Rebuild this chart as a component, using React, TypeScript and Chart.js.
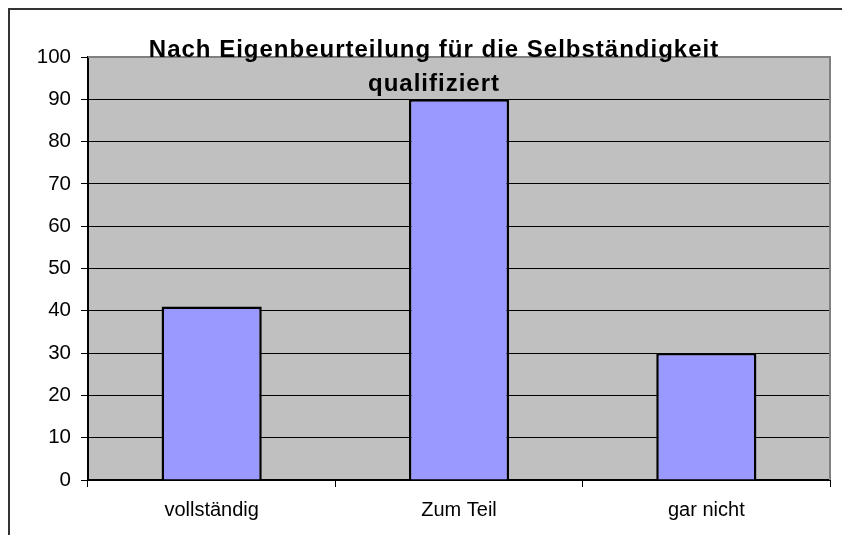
import React, { useEffect, useRef } from "react";
import { Chart, registerables } from "chart.js";

Chart.register(...registerables);

const categories = ["vollständig", "Zum Teil", "gar nicht"];
const values = [41, 90, 30];
const titleLines = ["Nach Eigenbeurteilung für die Selbständigkeit", "qualifiziert"];
const yMin = 0;
const yMax = 100;
const yStep = 10;

const FONT = '"Liberation Sans", Arial, sans-serif';

const plotDecor = {
  id: "plotDecor",
  beforeDraw(chart: any) {
    const { ctx, chartArea: a } = chart;
    ctx.save();
    ctx.fillStyle = "#C0C0C0";
    ctx.fillRect(a.left, a.top, a.right - a.left, a.bottom - a.top);
    ctx.restore();
  },
  afterDatasetsDraw(chart: any) {
    const { ctx, chartArea: a } = chart;
    ctx.save();
    ctx.strokeStyle = "#808080";
    ctx.lineWidth = 2;
    ctx.beginPath();
    ctx.moveTo(a.left, a.top);
    ctx.lineTo(a.right, a.top);
    ctx.lineTo(a.right, a.bottom);
    ctx.stroke();
    ctx.restore();
  },
  afterDraw(chart: any) {
    const { ctx } = chart;
    ctx.save();
    ctx.fillStyle = "#000";
    ctx.font = `bold 24px ${FONT}`;
    try {
      (ctx as any).letterSpacing = "1px";
    } catch (e) {}
    ctx.textAlign = "center";
    ctx.textBaseline = "alphabetic";
    const cx = 424;
    ctx.fillText(titleLines[0], cx, 47);
    ctx.fillText(titleLines[1], cx, 81);
    ctx.restore();
  },
};

export default function App() {
  const ref = useRef<HTMLCanvasElement | null>(null);

  useEffect(() => {
    document.documentElement.style.overflow = "hidden";
    document.body.style.overflow = "hidden";
    const canvas = ref.current;
    if (!canvas) return;
    const chart = new Chart(canvas, {
      type: "bar",
      data: {
        labels: categories,
        datasets: [
          {
            data: values,
            backgroundColor: "#9999FF",
            borderColor: "#000000",
            borderWidth: 2.5,
            barPercentage: 0.405,
            categoryPercentage: 1,
          },
        ],
      },
      options: {
        responsive: false,
        animation: false,
        devicePixelRatio: 1,
        layout: { padding: { top: 47, right: 28, left: 0, bottom: 8 } },
        plugins: {
          legend: { display: false },
          title: { display: false },
          tooltip: { enabled: false },
        },
        scales: {
          x: {
            offset: true,
            grid: {
              offset: true,
              drawOnChartArea: false,
              drawTicks: true,
              tickLength: 7,
              color: "#000",
              lineWidth: 1,
            },
            border: { color: "#000", width: 2 },
            ticks: {
              color: "#000",
              padding: 11,
              font: { family: FONT, size: 20 },
              maxRotation: 0,
            },
            afterFit(scale: any) {
              scale.height = 55;
            },
          },
          y: {
            min: yMin,
            max: yMax,
            grid: {
              color: "#000",
              lineWidth: 1,
              tickLength: 7,
            },
            border: { color: "#000", width: 2 },
            ticks: {
              stepSize: yStep,
              color: "#000",
              padding: 10,
              font: { family: FONT, size: 20.5 },
            },
            afterFit(scale: any) {
              scale.width = 78;
            },
          },
        },
      },
      plugins: [plotDecor],
    });
    return () => chart.destroy();
  }, []);

  return (
    <div
      style={{
        width: 850,
        height: 535,
        borderLeft: "2px solid #333",
        borderTop: "2px solid #333",
        boxSizing: "border-box",
        overflow: "hidden",
        background: "#fff",
      }}
    >
      <canvas ref={ref} width={848} height={533} style={{ display: "block" }} />
    </div>
  );
}
